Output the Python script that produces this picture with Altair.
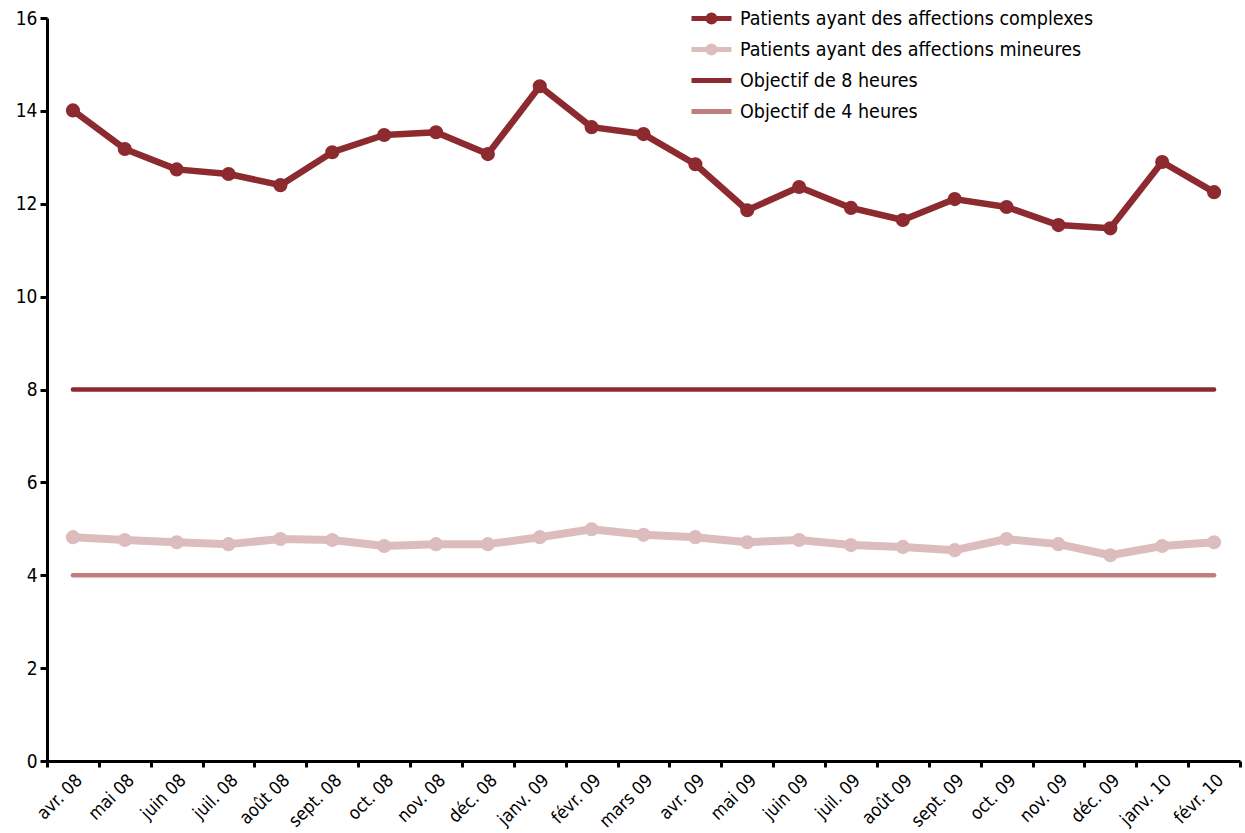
import altair as alt
import pandas as pd

# Months on the horizontal axis
mois = ["avr. 08", "mai 08", "juin 08", "juil. 08", "août 08", "sept. 08",
        "oct. 08", "nov. 08", "déc. 08", "janv. 09", "févr. 09", "mars 09",
        "avr. 09", "mai 09", "juin 09", "juil. 09", "août 09", "sept. 09",
        "oct. 09", "nov. 09", "déc. 09", "janv. 10", "févr. 10"]

# Waiting time (hours) by patient category
complexes = [14.01, 13.18, 12.74, 12.64, 12.40, 13.11, 13.48, 13.54, 13.07,
             14.53, 13.65, 13.50, 12.85, 11.86, 12.36, 11.91, 11.65, 12.10,
             11.93, 11.54, 11.47, 12.90, 12.25]
mineures = [4.82, 4.76, 4.71, 4.67, 4.78, 4.76, 4.63, 4.67, 4.67, 4.82, 4.99,
            4.87, 4.82, 4.71, 4.76, 4.65, 4.61, 4.54, 4.78, 4.67, 4.43, 4.63,
            4.71]
objectif_8 = [8] * len(mois)
objectif_4 = [4] * len(mois)

series = ["Patients ayant des affections complexes",
          "Patients ayant des affections mineures",
          "Objectif de 8 heures",
          "Objectif de 4 heures"]
couleurs = ["#8C2A2F", "#DDBCBD", "#8C2A2F", "#BD7E80"]
epaisseurs = [6.5, 8, 4.5, 4.5]

rows = []
for nom, vals, w in zip(series, [complexes, mineures, objectif_8, objectif_4], epaisseurs):
    for m, v in zip(mois, vals):
        rows.append({"mois": m, "serie": nom, "valeur": v, "ep": w,
                     "marqueur": nom.startswith("Patients")})
df = pd.DataFrame(rows)

FONT = "DejaVu Sans Condensed, Liberation Sans Narrow, Roboto, sans-serif"

x_enc = alt.X("mois:N", sort=mois, bandPosition=0.5,
              scale=alt.Scale(type="band", paddingInner=0, paddingOuter=0),
              axis=alt.Axis(title=None, labelAngle=-45, labelAlign="right",
                            labelBaseline="top", tickBand="extent",
                            labelFontSize=18, labelPadding=4, tickSize=6,
                            tickWidth=3, domainWidth=3, tickColor="black",
                            domainColor="black", labelColor="black",
                            labelFont=FONT))
y_enc = alt.Y("valeur:Q",
              scale=alt.Scale(domain=[0, 16], nice=False),
              axis=alt.Axis(title=None, values=list(range(0, 17, 2)), grid=False,
                            labelFontSize=19, tickSize=7, tickWidth=3,
                            domainWidth=3, labelPadding=3, tickColor="black",
                            domainColor="black", labelColor="black",
                            labelFont=FONT))

color_scale = alt.Scale(domain=series, range=couleurs)

# legend glyphs: plain stroke for targets, stroke with a dot for the series
path_ligne = "M-2,0H2"
path_point = "M-2,0H2M-0.35,0A0.35,0.35 0 1,1 0.35,0A0.35,0.35 0 1,1 -0.35,0Z"
shape_scale = alt.Scale(domain=series,
                        range=[path_point, path_point, path_ligne, path_ligne])

legende = alt.Legend(
    title=None, orient="none", legendX=652, legendY=-12,
    labelFontSize=19.5, labelFont=FONT, labelColor="black", labelLimit=600,
    symbolSize=400, symbolStrokeWidth=5, symbolOpacity=1, rowPadding=4,
    gridAlign="all", labelOffset=16,
)

# empty layer that carries the legend (fill, stroke and shape merged)
cle = alt.Chart(df).transform_filter("false").mark_point(filled=True).encode(
    x=x_enc, y=y_enc,
    fill=alt.Fill("serie:N", scale=color_scale, sort=series, legend=legende),
    stroke=alt.Stroke("serie:N", scale=color_scale, sort=series, legend=legende),
    shape=alt.Shape("serie:N", scale=shape_scale, sort=series, legend=legende),
)

lignes = alt.Chart(df).mark_line(strokeCap="round", strokeJoin="round").encode(
    x=x_enc, y=y_enc,
    stroke=alt.Stroke("serie:N", scale=color_scale, sort=series, legend=legende),
    strokeWidth=alt.StrokeWidth("ep:Q", scale=None, legend=None),
)

points = alt.Chart(df).transform_filter(
    alt.datum.marqueur
).mark_point(filled=True, size=200, opacity=1).encode(
    x=x_enc, y=y_enc,
    fill=alt.Fill("serie:N", scale=color_scale, sort=series, legend=legende),
)

chart = alt.layer(cle, lignes, points).properties(
    width=1193, height=743,
    autosize=alt.AutoSizeParams(type="none"),
    padding={"left": 47, "top": 18, "right": 5, "bottom": 72},
).configure(font=FONT, background="white").configure_view(stroke=None)

chart.save("out.html", embed_options={"renderer": "svg", "actions": False})
